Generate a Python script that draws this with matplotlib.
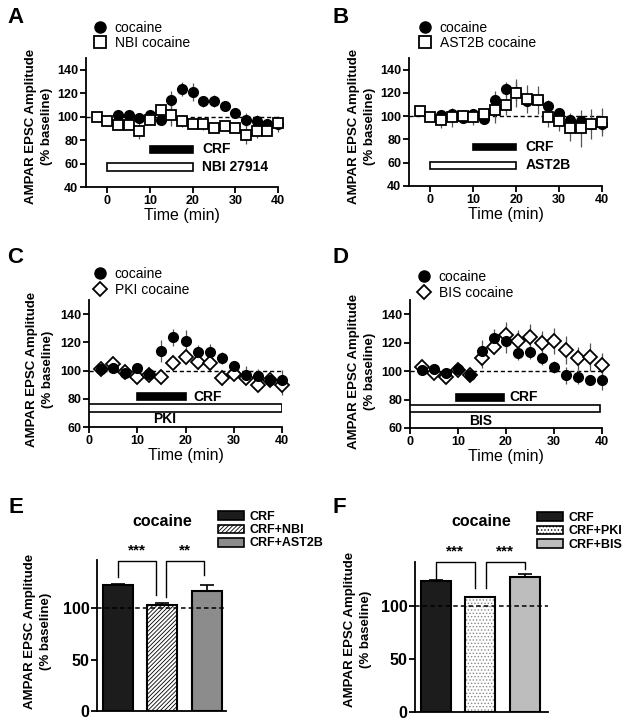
import numpy as np
import matplotlib
matplotlib.use('Agg')
from matplotlib import pyplot as plt
from matplotlib.lines import Line2D
from matplotlib.patches import Patch

plt.rcParams['font.family'] = ['Liberation Sans', 'DejaVu Sans']
plt.rcParams['font.weight'] = 'bold'
plt.rcParams['hatch.linewidth'] = 0.6

W, H = 629, 727

# time course, AMPAR EPSC amplitude (% baseline)
t_coc = [2.5, 5, 7.5, 10, 12.5, 15, 17.5, 20, 22.5, 25, 27.5, 30, 32.5, 35, 37.5, 40]
cocaine = [101, 101.5, 98.5, 101.5, 97.5, 114, 123.5, 121, 113, 113.5, 109, 103, 97, 96, 93.5, 93.5]
cocaine_err = [2, 2, 3, 3, 3, 8, 6, 8, 5, 5, 4.5, 4, 6, 5, 3, 7]

t_pre = [-2.5, 0, 2.5, 5, 7.5, 10, 12.5, 15, 17.5, 20, 22.5, 25, 27.5, 30, 32.5, 35, 37.5, 40]
nbi = [100, 96, 93, 93, 88, 97, 106, 101, 96, 93.5, 93.5, 90.5, 92, 90, 84.5, 87.5, 87.5, 94.5]
nbi_err = [2, 2, 3, 3, 7, 3, 5, 9, 5, 4, 5, 4, 3, 3, 8, 6, 4, 4]
ast2b = [104.5, 99, 97, 99, 100, 99.5, 102, 105, 110, 120, 115, 114, 99, 95.5, 90, 89.5, 93, 95]
ast2b_err = [2, 2, 7, 8, 5, 7, 5, 11, 9, 12, 12, 12, 8, 8, 11, 16, 13, 12]

pki = [101, 105, 99, 95.5, 97, 95.5, 105.5, 109.5, 106, 105.5, 95, 97.5, 95, 90, 93, 89.5]
pki_err = [3, 3, 2, 3, 3, 5, 4, 5, 5, 5, 5, 3, 3, 3, 4, 7]
bis = [103, 99, 96, 101, 97, 109.5, 117, 125.5, 121, 124, 120, 121, 115, 109, 110, 104]
bis_err = [5, 3, 3, 2, 3, 7, 5, 9, 8, 9, 8, 9, 10, 8, 10, 9]

# drug application periods (min)
crf_on = [10, 20]
nbi_on = [0, 20]
ast2b_on = [0, 20]
pki_on = [0, 40]
bis_on = [0, 39.5]

# summary bars
e_labels = ['CRF', 'CRF+NBI', 'CRF+AST2B']
e_vals = [123, 103, 117]
e_err = [1, 2, 5.5]
f_labels = ['CRF', 'CRF+PKI', 'CRF+BIS']
f_vals = [123, 108, 127]
f_err = [1, 0.5, 3]

fig = plt.figure(figsize=(W / 100, H / 100), dpi=100)


def px_ax(l, t, r, b):
    return fig.add_axes([l / W, 1 - b / H, (r - l) / W, (b - t) / H])


def fx(x, y):
    return (x / W, 1 - y / H)


def style(ax, xt, yt, size):
    for s in ['top', 'right']:
        ax.spines[s].set_visible(False)
    for s in ['left', 'bottom']:
        ax.spines[s].set_linewidth(1.3)
    ax.tick_params(width=1.3, length=4, labelsize=size, pad=1.5)
    ax.set_xticks(xt)
    ax.set_yticks(yt)


def ylab(x, y):
    fig.text(*fx(x, y), 'AMPAR EPSC Amplitude\n(% baseline)', rotation=90,
             ha='center', va='center', fontsize=9.5, linespacing=1.45,
             multialignment='center')


def course(ax, t2, y2, e2, mk, ms, lab2, on_top):
    ax.axhline(100, color='k', lw=1, dashes=(3, 2), zorder=1)
    ax.errorbar(t_coc, cocaine, yerr=cocaine_err, fmt='none', ecolor='#555555',
                elinewidth=0.9, zorder=2, clip_on=False)
    ax.errorbar(t2, y2, yerr=e2, fmt='none', ecolor='#555555',
                elinewidth=0.9, zorder=2, clip_on=False)
    zc, zo = (4, 5) if on_top else (5, 4)
    ax.plot(t_coc, cocaine, 'o', color='k', ms=7, ls='none', zorder=zc, clip_on=False)
    ax.plot(t2, y2, mk, mfc='white', mec='k', mew=1.3, ms=ms, ls='none',
            zorder=zo, clip_on=False)


def treat(ax, on, yc, h, face):
    ax.barh(yc, on[1] - on[0], left=on[0], height=h, color=face,
            edgecolor='k', lw=1.2, zorder=3)


def course_legend(ax, mk, ms, lab2, x, y, sp):
    hs = [Line2D([], [], marker='o', color='k', ls='none', ms=8),
          Line2D([], [], marker=mk, mfc='white', mec='k', mew=1.3, ls='none', ms=ms)]
    ax.legend(hs, ['cocaine', lab2], loc='upper left', bbox_to_anchor=fx(x, y),
              bbox_transform=fig.transFigure, frameon=False, borderpad=0,
              borderaxespad=0, handlelength=1.0, handletextpad=0.55,
              labelspacing=sp, prop={'weight': 'normal', 'size': 10})


# ---- A
ax = px_ax(86, 58, 278, 187)
course(ax, t_pre, nbi, nbi_err, 's', 7.5, 'NBI cocaine', True)
treat(ax, crf_on, 72, 6, 'k')
treat(ax, nbi_on, 57, 6.8, 'white')
ax.text(22.2, 72, 'CRF', va='center', fontsize=10)
ax.text(22.2, 57, 'NBI 27914', va='center', fontsize=10)
ax.set_xlim(-5, 40)
ax.set_ylim(40, 150)
style(ax, [0, 10, 20, 30, 40], range(40, 141, 20), 9)
ax.set_xlabel('Time (min)', fontsize=11.5, labelpad=1)
course_legend(ax, 's', 8, 'NBI cocaine', 93, 21, 0.05)
ylab(39, 126)

# ---- B
ax = px_ax(409, 58, 602, 186)
course(ax, t_pre, ast2b, ast2b_err, 's', 7.5, 'AST2B cocaine', True)
treat(ax, crf_on, 73.6, 5.7, 'k')
treat(ax, ast2b_on, 58, 6, 'white')
ax.text(22.2, 73.6, 'CRF', va='center', fontsize=10)
ax.text(22.2, 58, 'AST2B', va='center', fontsize=10)
ax.set_xlim(-5, 40)
ax.set_ylim(40, 150)
style(ax, [0, 10, 20, 30, 40], range(40, 141, 20), 9)
ax.set_xlabel('Time (min)', fontsize=11.5, labelpad=1)
course_legend(ax, 's', 8, 'AST2B cocaine', 418, 21, 0.05)
ylab(362, 126)

# ---- C
ax = px_ax(89, 300, 282, 427)
course(ax, t_coc, pki, pki_err, 'D', 7, 'PKI cocaine', False)
treat(ax, crf_on, 81.5, 5, 'k')
treat(ax, pki_on, 73.5, 5.5, 'white')
ax.text(21.6, 81.5, 'CRF', va='center', fontsize=10)
ax.text(15.7, 65.5, 'PKI', ha='center', va='center', fontsize=10)
ax.set_xlim(0, 40)
ax.set_ylim(60, 150)
style(ax, [0, 10, 20, 30, 40], range(60, 141, 20), 9)
ax.set_xlabel('Time (min)', fontsize=11.5, labelpad=1)
course_legend(ax, 'D', 7.5, 'PKI cocaine', 93, 267, 0.15)
ylab(40, 369)

# ---- D
ax = px_ax(410, 300, 602, 428)
course(ax, t_coc, bis, bis_err, 'D', 7, 'BIS cocaine', False)
treat(ax, [9.5, 19.5], 81.5, 5, 'k')
treat(ax, bis_on, 73.7, 5, 'white')
ax.text(20.8, 81.5, 'CRF', va='center', fontsize=10)
ax.text(14.8, 65, 'BIS', ha='center', va='center', fontsize=10)
ax.set_xlim(0, 40)
ax.set_ylim(60, 150)
style(ax, [0, 10, 20, 30, 40], range(60, 141, 20), 9)
ax.set_xlabel('Time (min)', fontsize=11.5, labelpad=1)
course_legend(ax, 'D', 7.5, 'BIS cocaine', 417, 270, 0.15)
ylab(362, 371)


# ---- E / F bar charts
def bars(ax, labels, vals, err, faces, hatches, hatch_col):
    x = np.arange(len(vals))
    b = ax.bar(x, vals, width=0.67, color=faces, edgecolor=hatch_col, lw=0, zorder=2)
    for p, h in zip(b, hatches):
        p.set_hatch(h)
    ax.bar(x, vals, width=0.67, color='none', edgecolor='k', lw=1.5, zorder=3)
    ax.errorbar(x, vals, yerr=[[0] * len(err), err], fmt='none', ecolor='k',
                elinewidth=1.2, capsize=5, capthick=1.2, zorder=1)
    ax.axhline(100, color='k', lw=1.1, dashes=(3, 2), zorder=4)
    hs = []
    for lab, fc, h in zip(labels, faces, hatches):
        hs.append(Patch(facecolor=fc, edgecolor='k', lw=1.2, hatch=h, label=lab))
    return hs


def bracket(ax, x0, x1, y0, y1, top, stars):
    ax.plot([x0, x0, x1, x1], [y0, top, top, y1], color='k', lw=1, clip_on=False)
    ax.text((x0 + x1) / 2, top + 3, stars, ha='center', va='bottom',
            fontsize=11, clip_on=False)


ax = px_ax(97, 560, 226, 711)
hs = bars(ax, e_labels, e_vals, e_err, ['#1c1c1c', 'white', '#8c8c8c'],
          [None, '////////', None], 'k')
bracket(ax, 0, 0.85, 130.5, 113.3, 146.5, '***')
bracket(ax, 1.07, 1.94, 111, 132, 146.5, '**')
ax.set_xlim(-0.47, 2.43)
ax.set_ylim(0, 147)
style(ax, [], [0, 50, 100], 11.5)
ax.tick_params(axis='x', length=0)
ax.legend(handles=hs, loc='upper left', bbox_to_anchor=fx(218, 511),
          bbox_transform=fig.transFigure, frameon=False, borderpad=0,
          borderaxespad=0, handlelength=2.1, handleheight=0.7,
          handletextpad=0.4, labelspacing=0.1, prop={'weight': 'bold', 'size': 9})
fig.text(*fx(162, 526), 'cocaine', ha='center', va='baseline', fontsize=11.5)
ylab(38, 631)

ax = px_ax(415, 562, 548, 712)
hs = bars(ax, f_labels, f_vals, f_err, ['#1c1c1c', 'white', '#bdbdbd'],
          [None, '.....', None], '#888888')
bracket(ax, 0, 0.875, 125, 116.5, 141, '***')
bracket(ax, 1.12, 2.0, 116.5, 134.3, 141, '***')
ax.set_xlim(-0.47, 2.52)
ax.set_ylim(0, 141)
style(ax, [], [0, 50, 100], 11.5)
ax.tick_params(axis='x', length=0)
ax.legend(handles=hs, loc='upper left', bbox_to_anchor=fx(537, 512),
          bbox_transform=fig.transFigure, frameon=False, borderpad=0,
          borderaxespad=0, handlelength=2.1, handleheight=0.7,
          handletextpad=0.4, labelspacing=0.1, prop={'weight': 'bold', 'size': 9})
fig.text(*fx(481, 526), 'cocaine', ha='center', va='baseline', fontsize=11.5)
ylab(358, 629)

# panel letters
for letter, x, y in [('A', 7, 23), ('B', 333, 23), ('C', 7, 263),
                     ('D', 333, 263), ('E', 8, 513), ('F', 332, 513)]:
    fig.text(*fx(x, y), letter, fontsize=16, va='baseline', ha='left')

fig.savefig('out.png', dpi=100)
